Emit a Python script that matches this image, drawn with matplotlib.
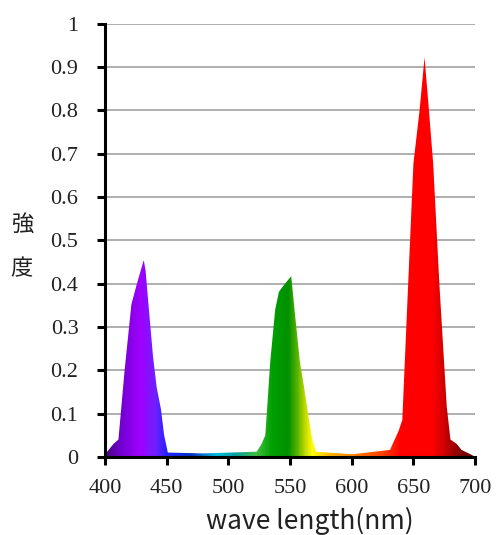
import matplotlib
matplotlib.use('Agg')
from matplotlib import pyplot as plt
from matplotlib.colors import LinearSegmentedColormap
from matplotlib.patches import Polygon
import numpy as np

# spectrum (wavelength nm, relative intensity)
wavelength = [400, 403, 407, 411, 416, 421.5, 426, 431.5, 433, 436, 439, 442, 445.5, 448, 451,
              480, 523, 527, 530, 534, 538, 541, 546, 551, 554, 558, 562, 565, 568, 571,
              600, 631, 634, 638, 641, 645, 650, 655, 659, 662, 666, 671, 677, 680, 685, 689, 697]
intensity = [0.005, 0.016, 0.03, 0.04, 0.2, 0.352, 0.4, 0.454, 0.43, 0.33, 0.232, 0.16, 0.109, 0.05, 0.01,
             0.008, 0.012, 0.03, 0.05, 0.22, 0.34, 0.381, 0.40, 0.417, 0.33, 0.22, 0.15, 0.093, 0.04, 0.012,
             0.006, 0.016, 0.035, 0.06, 0.085, 0.35, 0.677, 0.8, 0.922, 0.82, 0.677, 0.4, 0.116, 0.04, 0.03, 0.016, 0.005]

xticks = [400, 450, 500, 550, 600, 650, 700]
yticks = [0, 0.1, 0.2, 0.3, 0.4, 0.5, 0.6, 0.7, 0.8, 0.9, 1]
ytick_labels = ['0', '0.1', '0.2', '0.3', '0.4', '0.5', '0.6', '0.7', '0.8', '0.9', '1']

# colour of each wavelength
color_nodes = [(400, '#4b0082'), (412, '#7000d0'), (428, '#a000ff'), (440, '#7020ff'),
               (450, '#2020ff'), (470, '#0030c0'), (490, '#00c0e0'), (505, '#00a0a0'),
               (522, '#40c040'), (535, '#00a000'), (548, '#009000'), (555, '#50b000'),
               (563, '#d0e000'), (568, '#ffff00'), (580, '#ffc000'), (600, '#ff8000'),
               (625, '#ff4000'), (640, '#ff0000'), (665, '#ff0000'), (675, '#d00000'),
               (688, '#800000'), (700, '#600000')]
spec_cmap = LinearSegmentedColormap.from_list(
    'spec', [((w - 400) / 300.0, c) for w, c in color_nodes])

fig = plt.figure(figsize=(4.97, 5.35), dpi=100)
ax = fig.add_axes([0.211, 0.146, 0.745, 0.81])

ax.set_xlim(400, 700)
ax.set_ylim(0, 1)

# gradient clipped to the spectrum outline
pts = [(400, 0)] + list(zip(wavelength, intensity)) + [(700, 0)]
poly = Polygon(pts, closed=True, facecolor='none', edgecolor='none')
ax.add_patch(poly)
grad = np.linspace(400, 700, 600).reshape(1, -1)
img = ax.imshow(grad, extent=[400, 700, 0, 1], aspect='auto', cmap=spec_cmap,
                vmin=400, vmax=700, origin='lower', zorder=3, interpolation='bilinear')
img.set_clip_path(poly)

for y in yticks[1:]:
    ax.axhline(y, color='#a8a8a8', linewidth=1.3, zorder=1)

for s in ['top', 'right']:
    ax.spines[s].set_visible(False)
for s in ['left', 'bottom']:
    ax.spines[s].set_linewidth(2.2)
    ax.spines[s].set_zorder(5)

ax.set_xticks(xticks)
ax.set_yticks(yticks)
ax.set_yticklabels(ytick_labels)
ax.tick_params(direction='out', length=6, width=2.2, labelsize=16)
ax.tick_params(axis='x', pad=10)
ax.tick_params(axis='y', pad=13)
for lbl in ax.get_xticklabels() + ax.get_yticklabels():
    lbl.set_family('Liberation Serif')
    lbl.set_color('#222222')

fig.text(0.624, 0.027, 'wave length(nm)', fontsize=19, family=['Noto Sans CJK JP', 'DejaVu Sans'],
         color='#222222', ha='center', va='center')
fig.text(0.044, 0.58, '強', fontsize=16, family=['Noto Sans CJK JP'], ha='center', va='center', color='#222222')
fig.text(0.044, 0.497, '度', fontsize=16, family=['Noto Sans CJK JP'], ha='center', va='center', color='#222222')

fig.savefig('out.png', dpi=100, facecolor='white')
